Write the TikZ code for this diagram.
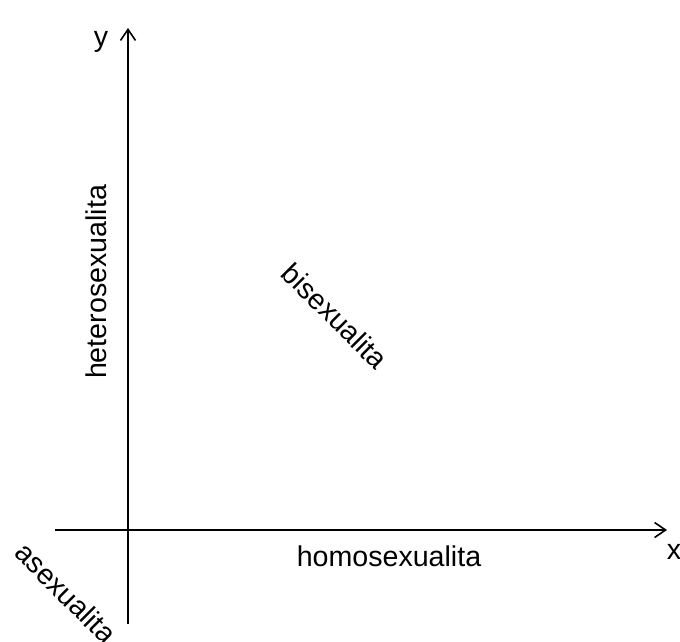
\documentclass[tikz,border=0pt]{standalone}
\usepackage{fontspec}
\setmainfont{Liberation Sans}
\usetikzlibrary{arrows.meta}

\begin{document}
\begin{tikzpicture}[
  x=1pt, y=-1pt,
  every node/.style = {font=\fontsize{28.6}{34}\selectfont, inner sep=0pt},
  axis/.style  = {line width=1.6pt, -{Straight Barb[length=11pt, width=15pt, line width=1.6pt]}},
  diag/.style  = {rotate=-45},
]
\useasboundingbox (0,0) rectangle (680,641);

%% axes end points
\coordinate (origin) at (128,530);
\coordinate (xstart) at (55,530);
\coordinate (xend)   at (667,530);
\coordinate (ystart) at (128,624);
\coordinate (yend)   at (128,28);

%% axes
\draw[axis] (xstart) -- (xend);
\draw[axis] (ystart) -- (yend);

%% labels
\node (ylab)   at (101,42)  {y};
\node (xlab)   at (674,552) {x};
\node[rotate=90] (hetero) at (96,282)  {heterosexualita};
\node (homo)   at (389,556) {homosexualita};
\node[diag] (bi)     at (335,316) {bisexualita};
\node[diag] (asex)   at (66,593)  {asexualita};

\end{tikzpicture}
\end{document}
